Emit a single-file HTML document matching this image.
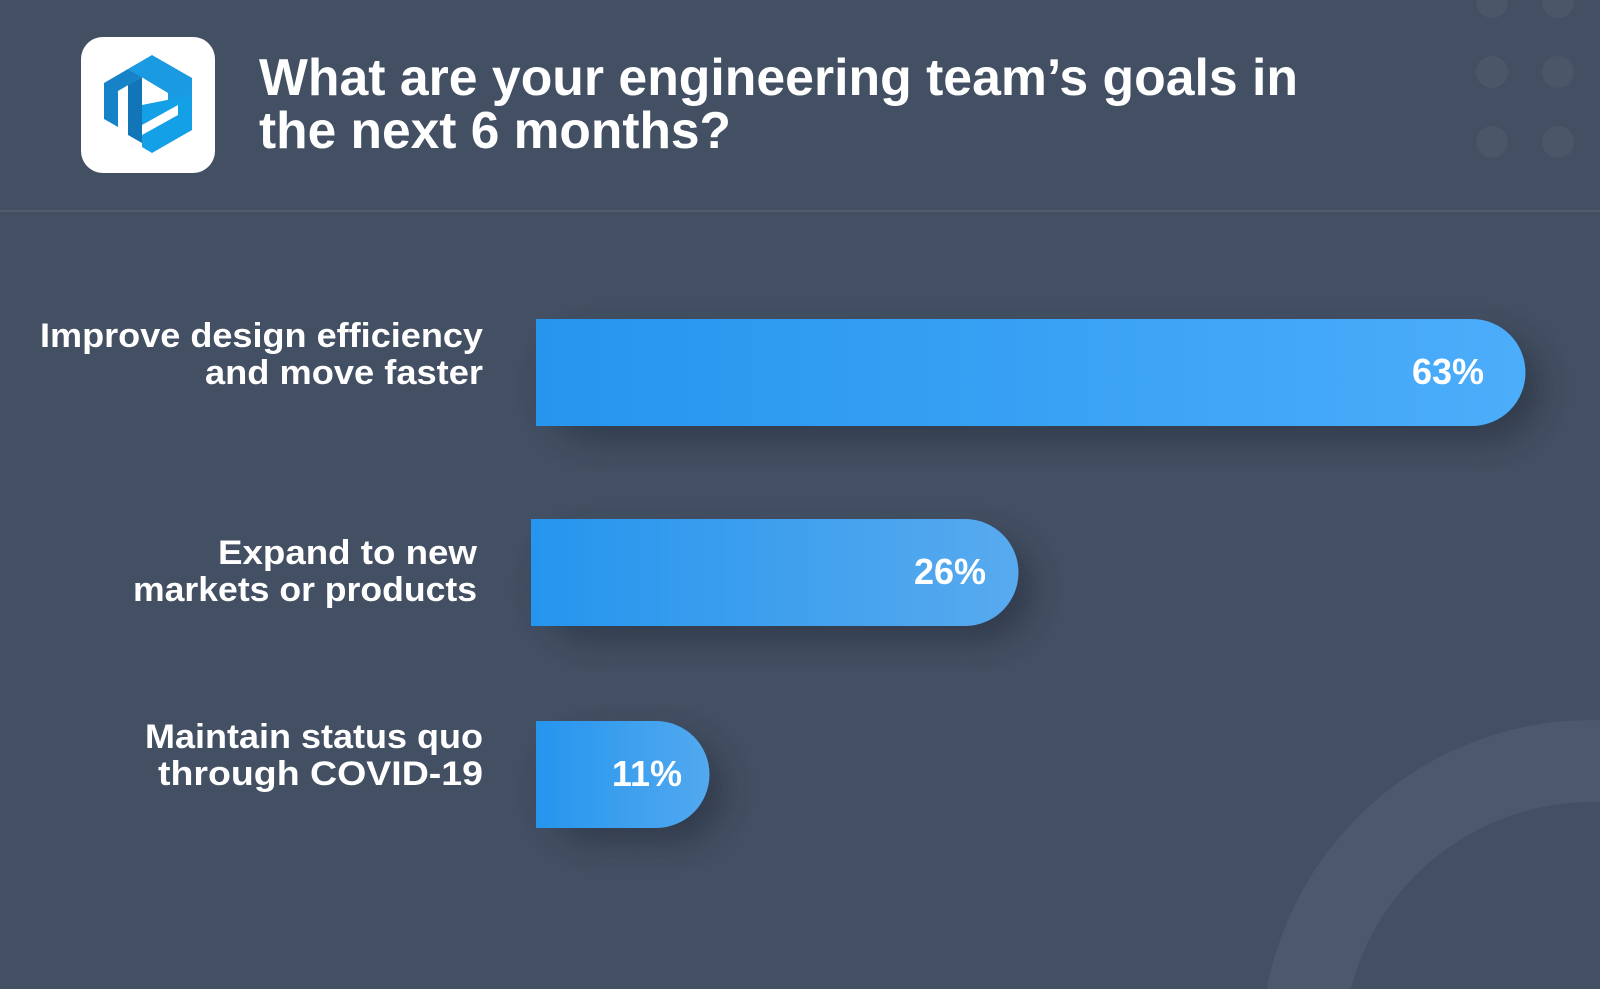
<!DOCTYPE html>
<html><head><meta charset="utf-8"><style>
html,body{margin:0;padding:0;background:#434f62;width:1600px;height:989px;overflow:hidden;}
svg{display:block}
text{font-family:"Liberation Sans","DejaVu Sans",sans-serif;fill:#fff;}
</style></head><body>
<svg width="1600" height="989" viewBox="0 0 1600 989">
<defs>
<linearGradient id="g1" x1="0" x2="1" y1="0" y2="0"><stop offset="0" stop-color="#2595ee"/><stop offset="1" stop-color="#4cadfa"/></linearGradient>
<linearGradient id="g2" x1="0" x2="1" y1="0" y2="0"><stop offset="0" stop-color="#2595ee"/><stop offset="1" stop-color="#58aaee"/></linearGradient>
<linearGradient id="g3" x1="0" x2="1" y1="0" y2="0"><stop offset="0" stop-color="#2595ee"/><stop offset="1" stop-color="#52a9ef"/></linearGradient>
<filter id="sh" x="-10%" y="-30%" width="130%" height="190%"><feGaussianBlur stdDeviation="14"/></filter>
</defs>
<rect width="1600" height="989" fill="#434f62"/>
<g fill="#4b5669">
<circle cx="1492" cy="2" r="16"/><circle cx="1558" cy="2" r="16"/>
<circle cx="1492" cy="72" r="16"/><circle cx="1558" cy="72" r="16"/>
<circle cx="1492" cy="142" r="16"/><circle cx="1558" cy="142" r="16"/>
</g>
<circle cx="1592" cy="1051" r="290" fill="none" stroke="#4c586b" stroke-width="82"/>
<rect x="0" y="210" width="1600" height="2" fill="#515c6e"/>
<rect x="81" y="37" width="134" height="136" rx="22" fill="#fff"/>
<g transform="translate(148,105)">
<polygon points="-44,-22 -20,-36 -6,-28 -30,-14 -30,22 -44,14" fill="#1682c8"/>
<polygon points="-20,-36 4,-50 44,-27 44,-10 20,4 20,-12" fill="#1a9ae0"/>
<polygon points="-20,-20 -6,-28 -6,38 -20,30" fill="#1275b8"/>
<polygon points="-6,0 44,-10 44,25 4,48 -6,42 -6,30 30,10 30,0 -6,20" fill="#14a0e6"/>
</g>
<text x="259" y="95" font-size="52" font-weight="bold" textLength="1039" lengthAdjust="spacingAndGlyphs">What are your engineering team’s goals in</text>
<text x="259" y="148" font-size="52" font-weight="bold" textLength="472" lengthAdjust="spacingAndGlyphs">the next 6 months?</text>
<g filter="url(#sh)" fill="#2a3444" opacity="0.7">
<rect x="546" y="334" width="994" height="107" rx="53"/>
<rect x="541" y="534" width="492" height="107" rx="53"/>
<rect x="546" y="736" width="178" height="107" rx="53"/>
</g>
<path d="M536 319 H1472 A53.5 53.5 0 0 1 1472 426 H536 Z" fill="url(#g1)"/>
<path d="M531 519 H965 A53.5 53.5 0 0 1 965 626 H531 Z" fill="url(#g2)"/>
<path d="M536 721 H656 A53.5 53.5 0 0 1 656 828 H536 Z" fill="url(#g3)"/>
<g font-size="36" text-anchor="end" font-weight="bold">
<text x="1484" y="384">63%</text>
<text x="986" y="584">26%</text>
<text x="682" y="786">11%</text>
</g>
<g font-size="34" text-anchor="end" font-weight="bold">
<text x="483" y="347" textLength="443" lengthAdjust="spacingAndGlyphs">Improve design efficiency</text>
<text x="483" y="384" textLength="278" lengthAdjust="spacingAndGlyphs">and move faster</text>
<text x="477" y="564" textLength="259" lengthAdjust="spacingAndGlyphs">Expand to new</text>
<text x="477" y="601" textLength="344" lengthAdjust="spacingAndGlyphs">markets or products</text>
<text x="483" y="748" textLength="338" lengthAdjust="spacingAndGlyphs">Maintain status quo</text>
<text x="483" y="785" textLength="325" lengthAdjust="spacingAndGlyphs">through COVID-19</text>
</g>
</svg>
</body></html>
